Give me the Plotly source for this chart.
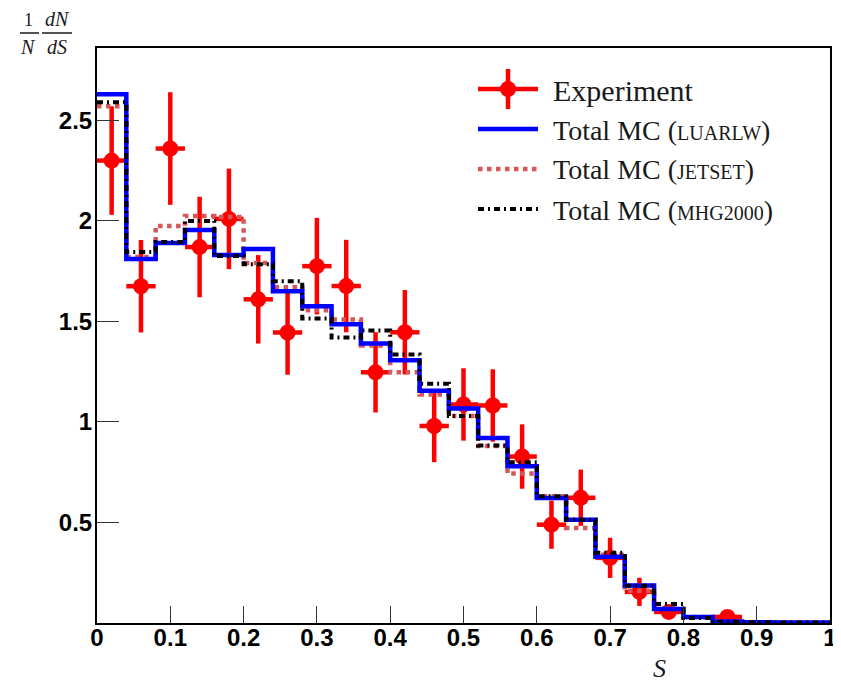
import plotly.graph_objects as go

# ---- data ----
bin_edges = [0.00, 0.04, 0.08, 0.12, 0.16, 0.20, 0.24, 0.28, 0.32, 0.36, 0.40, 0.44, 0.48,
             0.52, 0.56, 0.60, 0.64, 0.68, 0.72, 0.76, 0.80, 0.84, 0.88, 0.92, 0.96, 1.00]

mc_luarlw = [2.63, 1.81, 1.89, 1.955, 1.83, 1.86, 1.65, 1.575, 1.486, 1.39, 1.307, 1.155, 1.067,
             0.92, 0.78, 0.622, 0.513, 0.33, 0.186, 0.07, 0.03, 0.007, 0.004, 0.003, 0.003]
mc_jetset = [2.57, 1.82, 1.975, 2.025, 2.02, 1.79, 1.67, 1.556, 1.51, 1.38, 1.247, 1.137, 1.03,
             0.88, 0.743, 0.63, 0.473, 0.34, 0.16, 0.07, 0.03, 0.006, 0.004, 0.003, 0.003]
mc_mhg2000 = [2.59, 1.845, 1.895, 2.0, 1.825, 1.785, 1.70, 1.515, 1.42, 1.455, 1.336, 1.19, 1.03,
              0.883, 0.80, 0.63, 0.513, 0.35, 0.185, 0.095, 0.025, 0.006, 0.004, 0.003, 0.003]

exp_s = [0.02, 0.06, 0.10, 0.14, 0.18, 0.22, 0.26, 0.30, 0.34, 0.38, 0.42, 0.46, 0.50,
         0.54, 0.58, 0.62, 0.66, 0.70, 0.74, 0.78, 0.86]
exp_val = [2.30, 1.675, 2.36, 1.87, 2.01, 1.61, 1.445, 1.775, 1.676, 1.247, 1.446, 0.98, 1.087,
           1.082, 0.828, 0.489, 0.623, 0.324, 0.155, 0.055, 0.03]
exp_err = [0.27, 0.23, 0.28, 0.25, 0.25, 0.22, 0.21, 0.24, 0.23, 0.20, 0.21, 0.18, 0.18,
           0.18, 0.16, 0.12, 0.14, 0.10, 0.07, 0.03, 0.01]
exp_halfwidth = [0.02] * len(exp_s)

x_ticks = [0, 0.1, 0.2, 0.3, 0.4, 0.5, 0.6, 0.7, 0.8, 0.9, 1]
x_ticktext = ["0", "0.1", "0.2", "0.3", "0.4", "0.5", "0.6", "0.7", "0.8", "0.9", "1"]
y_ticks = [0.5, 1, 1.5, 2, 2.5]
y_ticktext = ["0.5", "1", "1.5", "2", "2.5"]

legend_labels = ["Experiment", "Total MC (", "LUARLW", "JETSET", "MHG2000"]

RED = "#ff0000"
BLUE = "#0000ff"
JET = "#d65757"
BLACK = "#000000"
TXT = "#1a1a1a"

# page body has an 8px margin: the figure starts 8px in from the window's top-left corner
OFF = 8
W, H = 841 - OFF, 684 - OFF
PLOT_L, PLOT_R, PLOT_T, PLOT_B = 97, 830, 48, 623  # window pixels of the plot frame
L = PLOT_L - OFF
T = PLOT_T - OFF
R = W - (PLOT_R - OFF)
B = H - (PLOT_B - OFF)
PW, PH = PLOT_R - PLOT_L, PLOT_B - PLOT_T


def px(xpix):
    return (xpix - PLOT_L) / PW


def py(ypix):
    return (PLOT_B - ypix) / PH


fig = go.Figure()

fig.add_trace(go.Scatter(
    x=exp_s, y=exp_val, mode="markers",
    marker=dict(color=RED, size=16, symbol="circle"),
    error_y=dict(type="data", array=exp_err, color=RED, thickness=4.5, width=0),
    error_x=dict(type="data", array=exp_halfwidth, color=RED, thickness=4.5, width=0),
    showlegend=False, cliponaxis=False,
))


def step(vals):
    return vals + [vals[-1]]


fig.add_trace(go.Scatter(x=bin_edges, y=step(mc_jetset), mode="lines", line_shape="hv",
                         line=dict(color=JET, width=4.5, dash="dot"), showlegend=False))
fig.add_trace(go.Scatter(x=bin_edges, y=step(mc_luarlw), mode="lines", line_shape="hv",
                         line=dict(color=BLUE, width=4.5), showlegend=False))
fig.add_trace(go.Scatter(x=bin_edges, y=step(mc_mhg2000), mode="lines", line_shape="hv",
                         line=dict(color=BLACK, width=4, dash="6px,4px,2px,4px"), showlegend=False))

shapes = []
annotations = []

# ---- manual legend ----
lx0, lx1 = px(478), px(538)
shapes.append(dict(type="line", xref="paper", yref="paper", x0=lx0, x1=lx1, y0=py(89), y1=py(89),
                   line=dict(color=RED, width=4.5)))
shapes.append(dict(type="line", xref="paper", yref="paper", x0=px(508), x1=px(508), y0=py(69), y1=py(109),
                   line=dict(color=RED, width=4.5)))
shapes.append(dict(type="circle", xref="paper", yref="paper", xsizemode="pixel", ysizemode="pixel",
                   xanchor=px(508), yanchor=py(89), x0=-8, x1=8, y0=-8, y1=8,
                   fillcolor=RED, line=dict(color=RED, width=0)))
shapes.append(dict(type="line", xref="paper", yref="paper", x0=lx0, x1=lx1, y0=py(129), y1=py(129),
                   line=dict(color=BLUE, width=4.5)))
shapes.append(dict(type="line", xref="paper", yref="paper", x0=lx0, x1=lx1, y0=py(169), y1=py(169),
                   line=dict(color=JET, width=4.5, dash="dot")))
shapes.append(dict(type="line", xref="paper", yref="paper", x0=lx0, x1=lx1, y0=py(209), y1=py(209),
                   line=dict(color=BLACK, width=4, dash="6px,4px,2px,4px")))

SERIF = "Liberation Serif"
annotations.append(dict(xref="paper", yref="paper", x=px(551), y=py(91), xanchor="left", yanchor="middle",
                        text=legend_labels[0], showarrow=False,
                        font=dict(family=SERIF, size=30, color=TXT)))
for lab, yy in [(legend_labels[2], 130), (legend_labels[3], 170), (legend_labels[4], 210)]:
    annotations.append(dict(xref="paper", yref="paper", x=px(551), y=py(yy), xanchor="left", yanchor="middle",
                            text=legend_labels[1] + '<span style="font-size:20px">' + lab + '</span>)',
                            showarrow=False, font=dict(family=SERIF, size=28, color=TXT)))

# ---- y-axis title as fraction ----
BAR_Y = 33
annotations.append(dict(xref="paper", yref="paper", x=px(28), y=py(BAR_Y - 1), text="1", showarrow=False,
                        xanchor="center", yanchor="bottom", font=dict(family=SERIF, size=18, color=TXT)))
annotations.append(dict(xref="paper", yref="paper", x=px(28), y=py(BAR_Y + 1), text="<i>N</i>", showarrow=False,
                        xanchor="center", yanchor="top", font=dict(family=SERIF, size=20, color=TXT)))
annotations.append(dict(xref="paper", yref="paper", x=px(57), y=py(BAR_Y - 1), text="<i>dN</i>", showarrow=False,
                        xanchor="center", yanchor="bottom", font=dict(family=SERIF, size=20, color=TXT)))
annotations.append(dict(xref="paper", yref="paper", x=px(57), y=py(BAR_Y + 1), text="<i>dS</i>", showarrow=False,
                        xanchor="center", yanchor="top", font=dict(family=SERIF, size=20, color=TXT)))
shapes.append(dict(type="line", xref="paper", yref="paper", x0=px(20), x1=px(39), y0=py(BAR_Y), y1=py(BAR_Y),
                   line=dict(color=TXT, width=1.5)))
shapes.append(dict(type="line", xref="paper", yref="paper", x0=px(42), x1=px(72), y0=py(BAR_Y), y1=py(BAR_Y),
                   line=dict(color=TXT, width=1.5)))

# ---- x-axis title ----
annotations.append(dict(xref="paper", yref="paper", x=px(659), y=py(668), text="<i>S</i>", showarrow=False,
                        xanchor="center", yanchor="middle", font=dict(family=SERIF, size=26, color=TXT)))

fig.update_layout(
    width=W, height=H,
    margin=dict(l=L, r=R, t=T, b=B, pad=0, autoexpand=False),
    paper_bgcolor="white", plot_bgcolor="white",
    shapes=shapes, annotations=annotations,
    showlegend=False,
)
fig.update_xaxes(range=[0, 1], tickvals=x_ticks, ticktext=x_ticktext, ticks="inside", ticklen=17,
                 tickwidth=1, tickcolor="#333333", showline=True, mirror=True, linecolor="black", linewidth=2,
                 showgrid=False, zeroline=False, ticklabelstandoff=-8, automargin=False,
                 ticklabeloverflow="allow",
                 tickfont=dict(family="Liberation Sans", size=24, color="black", weight="bold"))
fig.update_yaxes(range=[0, 2.86], tickvals=y_ticks, ticktext=y_ticktext, ticks="inside", ticklen=22,
                 tickwidth=1, tickcolor="#333333", showline=True, mirror=True, linecolor="black", linewidth=2,
                 showgrid=False, zeroline=False, ticklabelstandoff=-2, automargin=False,
                 ticklabeloverflow="allow",
                 tickfont=dict(family="Liberation Sans", size=24, color="black", weight="bold"))

fig.write_html("out.html")
